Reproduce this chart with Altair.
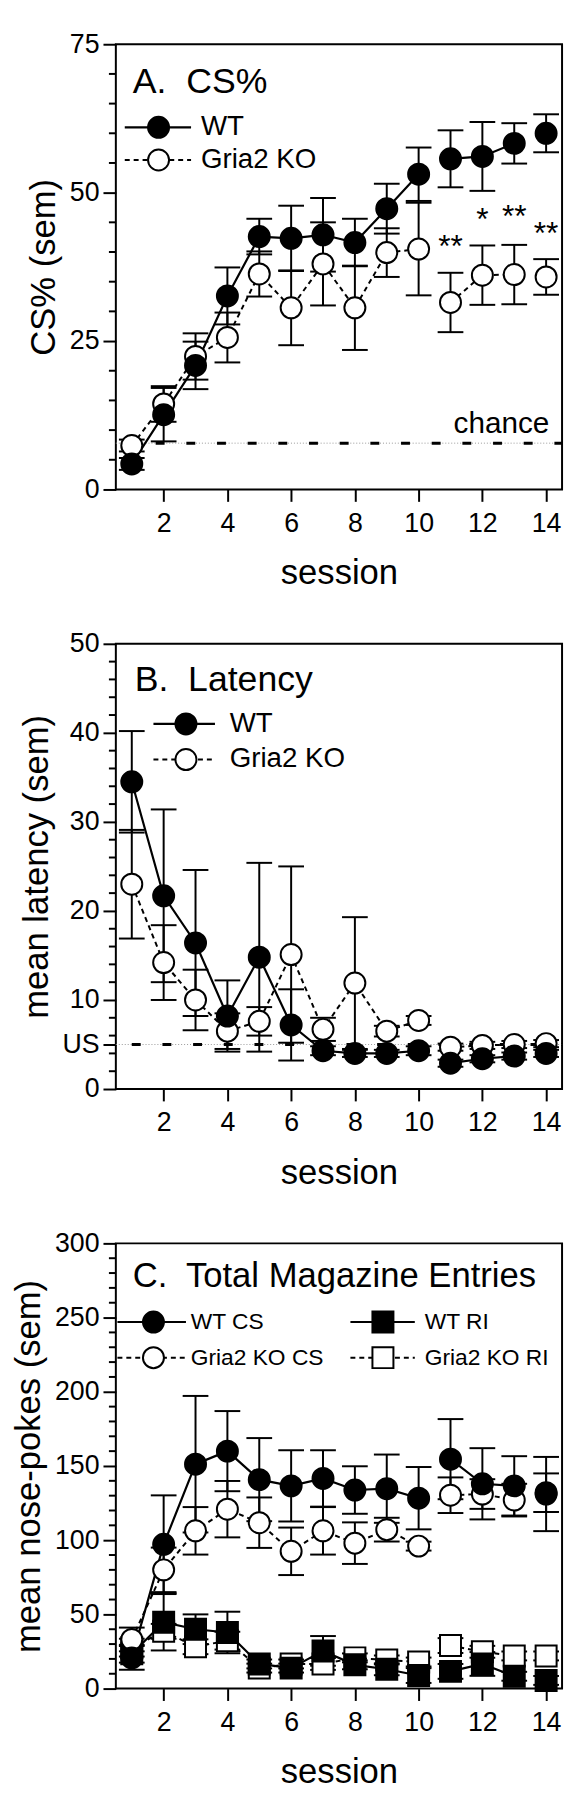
import altair as alt
import pandas as pd

FONT = "Liberation Sans"
sessions = list(range(1, 15))

# ---------------- Panel A: CS% ----------------
a_wt = [4.3, 12.6, 20.9, 32.6, 42.6, 42.3, 42.9, 41.6, 47.3, 53.1, 55.7, 56.1, 58.3, 60.0]
a_wt_sem = [1.0, 4.5, 4.0, 4.8, 3.0, 5.5, 6.2, 4.0, 4.2, 4.5, 4.8, 5.8, 3.4, 3.2]
a_ko = [7.4, 14.4, 22.4, 25.6, 36.3, 30.6, 38.0, 30.6, 39.9, 40.5, 31.5, 36.1, 36.2, 35.8]
a_ko_sem = [1.0, 3.0, 3.9, 4.2, 3.8, 6.3, 7.0, 7.1, 4.1, 7.8, 5.0, 5.0, 5.0, 3.0]
a_chance = 7.8
a_stars = ["**", "*", "**", "**"]
a_star_sessions = [11.0, 12.0, 13.0, 14.0]
a_star_y = [39.2, 43.7, 44.2, 41.4]

# ---------------- Panel B: Latency ----------------
b_wt = [34.5, 21.7, 16.4, 8.2, 14.8, 7.2, 4.3, 4.0, 4.0, 4.3, 2.9, 3.4, 3.7, 4.0]
b_wt_sem = [5.7, 9.7, 8.2, 4.0, 10.6, 4.0, 0.5, 0.4, 0.4, 0.5, 0.4, 0.4, 0.4, 0.4]
b_ko = [23.0, 14.2, 10.0, 6.5, 7.6, 15.1, 6.7, 11.9, 6.5, 7.7, 4.7, 4.9, 5.0, 5.1]
b_ko_sem = [6.1, 4.2, 3.4, 2.0, 1.6, 9.9, 1.3, 7.4, 0.6, 0.5, 0.4, 0.4, 0.4, 0.4]
b_us = 5.0

# ---------------- Panel C: Total magazine entries ----------------
c_wt_cs = [20.7, 97.2, 151.2, 160.0, 140.8, 136.6, 141.6, 133.8, 134.7, 128.3, 154.6, 138.0, 136.6, 131.1]
c_wt_cs_sem = [8, 33, 46, 27, 28, 24, 19, 16, 23, 21, 27, 24, 20, 25]
c_ko_cs = [33.1, 80.0, 106.3, 120.9, 111.8, 92.5, 106.3, 98.0, 107.1, 96.0, 130.3, 131.1, 127.0, 132.0]
c_ko_cs_sem = [8, 15, 16, 19, 17, 16, 16, 14, 8, 3, 12, 10, 11, 13]
c_wt_ri = [23.5, 44.7, 40.0, 37.8, 16.6, 13.8, 25.4, 16.0, 13.0, 8.8, 11.6, 16.6, 8.3, 5.5]
c_wt_ri_sem = [6, 19, 10, 14, 3, 3, 10, 3, 4, 5, 5, 8, 3, 3]
c_ko_ri = [27.6, 38.6, 28.2, 32.3, 13.8, 16.6, 16.6, 20.7, 19.3, 17.9, 29.0, 24.8, 22.0, 22.0]
c_ko_ri_sem = [6, 5, 5, 6, 3, 3, 4, 3, 3, 3, 5, 4, 3, 3]

x_ticks = [2, 4, 6, 8, 10, 12, 14]

W = 451
H = 450
MSIZE = 450


def seg_of(s):
    return "a" if s <= 10 else ("b" if s <= 13 else "c")


def build_df(values, sems):
    return pd.DataFrame({
        "session": sessions,
        "value": values,
        "lo": [v - e for v, e in zip(values, sems)],
        "hi": [v + e for v, e in zip(values, sems)],
        "seg": [seg_of(s) for s in sessions],
    })


XSCALE = alt.Scale(domain=[0.5, 14.5], nice=False, zero=False)
XAXIS = alt.Axis(values=x_ticks, title="session", tickSize=12, labelPadding=9,
                 titlePadding=20, format="d", labelFlush=False)


def make_xy(ydomain, yvalues, ytitle, label_expr=None):
    yscale = alt.Scale(domain=ydomain, nice=False, zero=True)
    kw = dict(values=yvalues, title=ytitle, tickSize=13, labelPadding=4,
              titlePadding=8, format="d")
    if label_expr:
        kw["labelExpr"] = label_expr
    yaxis = alt.Axis(**kw)

    def X(f):
        return alt.X(f"{f}:Q", scale=XSCALE, axis=XAXIS)

    def Y(f):
        return alt.Y(f"{f}:Q", scale=yscale, axis=yaxis)
    return X, Y


def series_layers(values, sems, X, Y, filled, shape, dashed, size=MSIZE):
    df = build_df(values, sems)
    base = alt.Chart(df)
    lkw = dict(color="black", strokeWidth=2.2)
    if dashed:
        lkw["strokeDash"] = [5, 4]
        lkw["strokeWidth"] = 2
    line = base.mark_line(**lkw).encode(x=X("session"), y=Y("value"), detail="seg:N")
    err = base.mark_rule(color="black", strokeWidth=2).encode(
        x=X("session"), y=Y("lo"), y2="hi:Q")
    cap_lo = base.mark_tick(color="black", orient="horizontal", size=26,
                            thickness=2, opacity=1).encode(x=X("session"), y=Y("lo"))
    cap_hi = base.mark_tick(color="black", orient="horizontal", size=26,
                            thickness=2, opacity=1).encode(x=X("session"), y=Y("hi"))
    pts = base.mark_point(shape=shape, filled=True, fill="black" if filled else "white",
                          stroke="black", strokeWidth=2, size=size, opacity=1).encode(
        x=X("session"), y=Y("value"))
    return [line, err, cap_lo, cap_hi], [pts]


def text_layer(xs, ys, texts, X, Y, size, align="left", baseline="alphabetic"):
    df = pd.DataFrame({"x": xs, "y": ys, "t": texts})
    return alt.Chart(df).mark_text(font=FONT, fontSize=size, align=align,
                                   baseline=baseline, color="black").encode(
        x=X("x"), y=Y("y"), text="t:N")


def legend_entry(x0, x1, xm, xl, y, label, X, Y, filled, shape, dashed, fsize, size=MSIZE):
    ldf = pd.DataFrame({"x": [x0], "x2": [x1], "y": [y]})
    rkw = dict(color="black", strokeWidth=2.2)
    if dashed:
        rkw["strokeDash"] = [5, 4]
        rkw["strokeWidth"] = 2
    rule = alt.Chart(ldf).mark_rule(**rkw).encode(x=X("x"), x2="x2:Q", y=Y("y"))
    pdf = pd.DataFrame({"x": [xm], "y": [y]})
    pt = alt.Chart(pdf).mark_point(shape=shape, filled=True, fill="black" if filled else "white",
                                   stroke="black", strokeWidth=2, size=size, opacity=1).encode(
        x=X("x"), y=Y("y"))
    txt = text_layer([xl], [y], [label], X, Y, fsize, baseline="middle")
    return [rule, pt, txt]


def minor_ticks(vals, Y):
    df = pd.DataFrame({"v": vals})
    return alt.Chart(df).mark_rule(color="black", strokeWidth=2).encode(
        y=Y("v"), x=alt.value(-7), x2=alt.value(0))


def ref_lines(yv, xstart, X, Y):
    thin = alt.Chart(pd.DataFrame({"x": [0.5], "x2": [14.5], "y": [yv]})).mark_rule(
        color="#999999", strokeWidth=1, strokeDash=[1, 2]).encode(x=X("x"), x2="x2:Q", y=Y("y"))
    thick = alt.Chart(pd.DataFrame({"x": [xstart], "x2": [14.5], "y": [yv]})).mark_rule(
        color="black", strokeWidth=3, strokeDash=[9, 22]).encode(x=X("x"), x2="x2:Q", y=Y("y"))
    return [thin, thick]


# ---------- Panel A ----------
XA, YA = make_xy([0, 75], [0, 25, 50, 75], "CS% (sem)")
a_minor = [v for v in range(5, 75, 5) if v % 25 != 0]
A_bottom = [minor_ticks(a_minor, YA)] + ref_lines(a_chance, 1.75, XA, YA)
A_ko_b, A_ko_t = series_layers(a_ko, a_ko_sem, XA, YA, False, "circle", True)
A_wt_b, A_wt_t = series_layers(a_wt, a_wt_sem, XA, YA, True, "circle", False)
A_ann = [
    text_layer([1.03], [66.8], ["A.\u00a0 CS%"], XA, YA, 36),
    text_layer([14.1], [9.5], ["chance"], XA, YA, 30, align="right"),
    text_layer(a_star_sessions, a_star_y, a_stars, XA, YA, 32, align="center"),
]
A_leg = (legend_entry(0.78, 2.86, 1.84, 3.17, 61.0, "WT", XA, YA, True, "circle", False, 28)
         + legend_entry(0.78, 2.86, 1.84, 3.17, 55.5, "Gria2 KO", XA, YA, False, "circle", True, 28))
panelA = alt.layer(*(A_bottom + A_ko_b + A_wt_b + A_ko_t + A_wt_t + A_ann + A_leg)).properties(
    width=W, height=H)

# ---------- Panel B ----------
XB, YB = make_xy([0, 50], [0, 5, 10, 20, 30, 40, 50], "mean latency (sem)",
                 label_expr="datum.value == 5 ? 'US' : datum.label")
b_minor = [v for v in range(2, 50, 2) if v % 10 != 0]
B_bottom = [minor_ticks(b_minor, YB)] + ref_lines(b_us, 1.0, XB, YB)
B_ko_b, B_ko_t = series_layers(b_ko, b_ko_sem, XB, YB, False, "circle", True)
B_wt_b, B_wt_t = series_layers(b_wt, b_wt_sem, XB, YB, True, "circle", False)
B_ann = [text_layer([1.09], [44.7], ["B.\u00a0 Latency"], XB, YB, 36)]
B_leg = (legend_entry(1.68, 3.61, 2.7, 4.07, 41.0, "WT", XB, YB, True, "circle", False, 28)
         + legend_entry(1.68, 3.61, 2.7, 4.07, 37.0, "Gria2 KO", XB, YB, False, "circle", True, 28))
panelB = alt.layer(*(B_bottom + B_ko_b + B_wt_b + B_ko_t + B_wt_t + B_ann + B_leg)).properties(
    width=W, height=H)

# ---------- Panel C ----------
XC, YC = make_xy([0, 300], [0, 50, 100, 150, 200, 250, 300], "mean nose-pokes (sem)")
c_minor = [v for v in range(10, 300, 10) if v % 50 != 0]
C_bottom = [minor_ticks(c_minor, YC)]
C_kori_b, C_kori_t = series_layers(c_ko_ri, c_ko_ri_sem, XC, YC, False, "square", True)
C_wtri_b, C_wtri_t = series_layers(c_wt_ri, c_wt_ri_sem, XC, YC, True, "square", False)
C_kocs_b, C_kocs_t = series_layers(c_ko_cs, c_ko_cs_sem, XC, YC, False, "circle", True)
C_wtcs_b, C_wtcs_t = series_layers(c_wt_cs, c_wt_cs_sem, XC, YC, True, "circle", False)
C_ann = [text_layer([1.03], [270.7], ["C.\u00a0 Total Magazine Entries"], XC, YC, 35)]
C_leg = (legend_entry(0.55, 2.7, 1.68, 2.85, 247, "WT CS", XC, YC, True, "circle", False, 23)
         + legend_entry(0.55, 2.7, 1.68, 2.85, 223, "Gria2 KO CS", XC, YC, False, "circle", True, 23)
         + legend_entry(7.86, 9.88, 8.88, 10.19, 247, "WT RI", XC, YC, True, "square", False, 23)
         + legend_entry(7.86, 9.88, 8.88, 10.19, 223, "Gria2 KO RI", XC, YC, False, "square", True, 23))
panelC = alt.layer(*(C_bottom + C_kori_b + C_wtri_b + C_kocs_b + C_wtcs_b
                     + C_kori_t + C_wtri_t + C_kocs_t + C_wtcs_t + C_ann + C_leg)).properties(
    width=W, height=H)

chart = alt.vconcat(panelA, panelB, panelC, spacing=38).properties(
    padding={"top": 12, "left": 2, "right": 2, "bottom": 2},
    background="white",
).configure_view(
    stroke="black", strokeWidth=2
).configure_axis(
    labelFont=FONT, titleFont=FONT, labelFontSize=27, titleFontSize=35,
    titleFontWeight="normal", labelColor="black", titleColor="black",
    tickColor="black", tickWidth=2, domain=False, grid=False
)

chart.save("out.html", embed_options={"renderer": "svg", "actions": False})
